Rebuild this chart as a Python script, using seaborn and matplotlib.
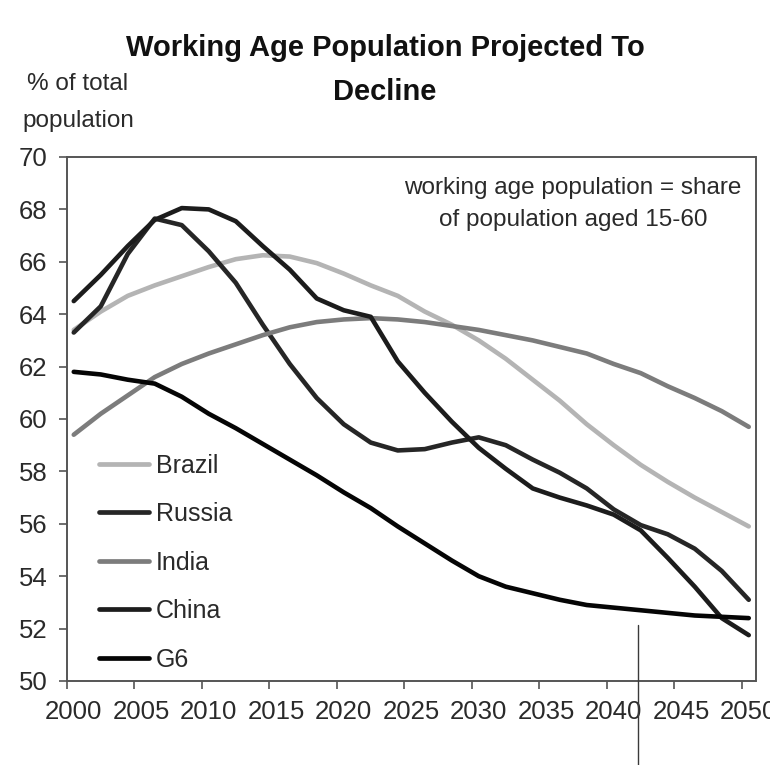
import matplotlib
matplotlib.use("Agg")
import matplotlib.pyplot as plt
from matplotlib.lines import Line2D
import pandas as pd
import seaborn as sns

# Projected share of population aged 15-60 (%), every second year
years = list(range(2000, 2051, 2))
brazil = [63.4, 64.1, 64.7, 65.1, 65.45, 65.8, 66.1, 66.25, 66.2, 65.95, 65.55, 65.1, 64.7,
          64.1, 63.6, 63.0, 62.3, 61.5, 60.7, 59.8, 59.0, 58.25, 57.6, 57.0, 56.45, 55.9]
russia = [63.3, 64.3, 66.3, 67.65, 67.4, 66.4, 65.2, 63.6, 62.1, 60.8, 59.8, 59.1, 58.8,
          58.85, 59.1, 59.3, 59.0, 58.45, 57.95, 57.35, 56.55, 55.95, 55.6, 55.05, 54.2, 53.1]
india = [59.4, 60.2, 60.9, 61.6, 62.1, 62.5, 62.85, 63.2, 63.5, 63.7, 63.8, 63.85, 63.8,
         63.7, 63.55, 63.4, 63.2, 63.0, 62.75, 62.5, 62.1, 61.75, 61.25, 60.8, 60.3, 59.7]
china = [64.5, 65.5, 66.6, 67.6, 68.05, 68.0, 67.55, 66.6, 65.7, 64.6, 64.15, 63.9, 62.2,
         61.0, 59.9, 58.9, 58.1, 57.35, 57.0, 56.7, 56.35, 55.75, 54.7, 53.6, 52.4, 51.75]
g6 = [61.8, 61.7, 61.5, 61.35, 60.85, 60.2, 59.65, 59.05, 58.45, 57.85, 57.2, 56.6, 55.9,
      55.25, 54.6, 54.0, 53.6, 53.35, 53.1, 52.9, 52.8, 52.7, 52.6, 52.5, 52.45, 52.4]

regions = ["Brazil", "Russia", "India", "China", "G6"]
palette = {"Brazil": "#b4b4b4", "Russia": "#262626", "India": "#7c7c7c",
           "China": "#1c1c1c", "G6": "#050505"}
tick_years = list(range(2000, 2051, 5))
y_ticks = list(range(50, 71, 2))

sns.set_theme(style="white")
plt.rcParams["font.family"] = ["Liberation Sans", "DejaVu Sans"]

df = pd.DataFrame({"year": years, "Brazil": brazil, "Russia": russia, "India": india,
                   "China": china, "G6": g6})
long = df.melt(id_vars="year", var_name="region", value_name="share")
# values are mid-year estimates, so they sit in the middle of each year's slot
long["pos"] = long["year"] + 0.5

fig = plt.figure(figsize=(7.7, 7.65), dpi=100)
ax = fig.add_axes([67 / 770, 1 - 681 / 765, (755.5 - 67) / 770, (681 - 157) / 765])

sns.lineplot(data=long, x="pos", y="share", hue="region", hue_order=regions,
             palette=palette, linewidth=3.3, ax=ax, legend=False)

ax.set_xlim(2000, 2051)
ax.set_ylim(50, 70)
ax.set_xlabel("")
ax.set_ylabel("")

# year boundaries get the tick marks, labels sit at the year centres
ax.set_xticks(tick_years)
ax.set_xticklabels([])
ax.set_xticks([y + 0.5 for y in tick_years], minor=True)
ax.set_xticklabels([str(y) for y in tick_years], minor=True)
ax.tick_params(axis="x", which="major", bottom=True, length=6, width=1.2,
               color="#555555", direction="out")
ax.tick_params(axis="x", which="minor", bottom=True, length=0, pad=14,
               labelsize=18.5, labelcolor="#2a2a2a")

ax.set_yticks(y_ticks)
ax.set_yticklabels([str(v) for v in y_ticks])
ax.tick_params(axis="y", left=True, length=6, width=1.2, color="#555555",
               direction="out", pad=8, labelsize=18.5, labelcolor="#2a2a2a")

for side in ["left", "bottom", "top", "right"]:
    ax.spines[side].set_visible(True)
    ax.spines[side].set_color("#555555")
    ax.spines[side].set_linewidth(1.4)

handles = [Line2D([], [], color=palette[r], lw=3.4) for r in regions]
ax.legend(handles, regions, loc="center left", bbox_to_anchor=(0.046, 0.226),
          frameon=False, fontsize=18, handlelength=2.0, handletextpad=0.3,
          labelspacing=0.98, borderpad=0, borderaxespad=0, labelcolor="#2a2a2a")

ax.text(0.735, 0.91, "working age population = share\nof population aged 15-60",
        transform=ax.transAxes, ha="center", va="center", fontsize=17.5,
        color="#2a2a2a", linespacing=1.58)

fig.text(0.5, 1 - 70 / 765, "Working Age Population Projected To\nDecline",
         ha="center", va="center", fontsize=21, fontweight="bold", color="#111111",
         linespacing=1.75)
fig.text(78 / 770, 1 - 102.5 / 765, "% of total\npopulation", ha="center", va="center",
         fontsize=17.5, color="#2a2a2a", linespacing=1.9)

# thin vertical marker line near the lower right
fig.add_artist(Line2D([638 / 770, 638 / 770], [0, 1 - 625 / 765],
                      transform=fig.transFigure, color="#3a3a3a", lw=1.0))

fig.savefig("out.png", dpi=100, facecolor="white")
